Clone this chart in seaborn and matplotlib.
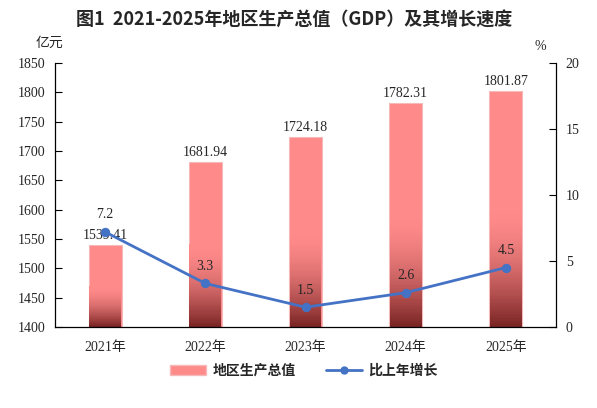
import numpy as np
import pandas as pd
import matplotlib
matplotlib.use("Agg")
import matplotlib.pyplot as plt
from matplotlib.colors import to_rgb
from matplotlib.patches import Patch
from matplotlib.lines import Line2D
import seaborn as sns

years = ["2021年", "2022年", "2023年", "2024年", "2025年"]
gdp = [1539.41, 1681.94, 1724.18, 1782.31, 1801.87]
growth = [7.2, 3.3, 1.5, 2.6, 4.5]
gdp_labels = ["1539.41", "1681.94", "1724.18", "1782.31", "1801.87"]
growth_labels = ["7.2", "3.3", "1.5", "2.6", "4.5"]
left_ticks = [1400, 1450, 1500, 1550, 1600, 1650, 1700, 1750, 1800, 1850]
right_ticks = [0, 5, 10, 15, 20]

sns.set_theme(style="white")
plt.rcParams['font.family'] = ['Liberation Serif', 'Noto Sans CJK SC', 'DejaVu Sans']
CJK = ['Noto Sans CJK SC', 'DejaVu Sans']
NUM = ['Liberation Serif', 'Noto Sans CJK SC']

pink = "#FF8A8A"
dark = "#782222"
blue = "#4472C4"

fig = plt.figure(figsize=(5.97, 4.08), dpi=100)
ax = fig.add_axes([55/597, 1 - 327/408, (556-55)/597, (327-63)/408])

df = pd.DataFrame({"year": years, "gdp": gdp, "growth": growth})
sns.barplot(data=df, x="year", y="gdp", ax=ax, color=pink, width=0.33,
            edgecolor="#F6B9B9", linewidth=0.8, saturation=1)
ax.set_ylim(1400, 1850)
ax.set_xlim(-0.5, 4.5)

# smooth gradient in lower part of each bar, drawn as thin slices
c_dark = np.array(to_rgb(dark))
c_pink = np.array(to_rgb(pink))
nslice = 80
patches = list(ax.patches)
for p in patches:
    x0 = p.get_x() + 0.006
    w = p.get_width() - 0.012
    base = 1400
    h = (p.get_y() + p.get_height() - base) * 0.5
    dh = h / nslice
    for k in range(nslice):
        tt = (k + 0.5) / nslice
        f = 1 - (1 - tt) ** 1.7
        col = c_dark + (c_pink - c_dark) * f
        ax.add_patch(plt.Rectangle((x0, base + k * dh), w, dh * 1.02,
                                   facecolor=col, edgecolor="none",
                                   linewidth=0, zorder=2.5, antialiased=False))
ax.set_xlim(-0.5, 4.5)
ax.set_ylim(1400, 1850)

for i, p in enumerate(patches):
    ax.text(p.get_x() + p.get_width()/2, p.get_y() + p.get_height() + 5, gdp_labels[i],
            ha="center", va="bottom", fontsize=10, family=NUM, zorder=6)

ax.set_yticks(left_ticks)
ax.set_yticklabels([str(v) for v in left_ticks], family=NUM, fontsize=10)
ax.set_xticks(range(len(years)))
ax.set_xticklabels(years, family=NUM + CJK, fontsize=10)
ax.set_xticks([0.5, 1.5, 2.5, 3.5], minor=True)
ax.tick_params(axis="x", which="major", length=0, pad=10)
ax.tick_params(axis="x", which="minor", length=4, direction="in", color="black", width=0.8)
ax.tick_params(axis="y", direction="in", length=5, color="black", width=0.8, left=True, pad=7)
ax.set_xlabel("")
ax.set_ylabel("")
for s in ["left", "bottom"]:
    ax.spines[s].set_color("black")
    ax.spines[s].set_linewidth(0.9)
ax.spines["top"].set_visible(False)
ax.spines["right"].set_visible(False)

ax2 = ax.twinx()
sns.lineplot(x=np.arange(len(years)), y=growth, ax=ax2, color=blue, linewidth=2,
             marker="o", markersize=6, markeredgecolor=blue, zorder=5)
ax2.set_ylim(0, 20)
ax2.set_xlim(-0.5, 4.5)
ax2.set_yticks(right_ticks)
ax2.set_yticklabels([str(v) for v in right_ticks], family=NUM, fontsize=10)
ax2.tick_params(axis="y", direction="in", length=5, color="black", width=0.8, right=True, pad=7)
ax2.spines["right"].set_color("black")
ax2.spines["right"].set_linewidth(0.9)
for s in ["top", "left", "bottom"]:
    ax2.spines[s].set_visible(False)
ax2.set_ylabel("")
for i, g in enumerate(growth):
    ax2.text(i, g + 0.8, growth_labels[i], ha="center", va="bottom",
             fontsize=10, family=NUM, zorder=7)

fig.text(294/597, 1 - 20/408, "图1  2021-2025年地区生产总值（GDP）及其增长速度",
         ha="center", va="center", fontsize=13, fontweight="bold", family=CJK)
fig.text(49/597, 1 - 43/408, "亿元", ha="center", va="center", fontsize=10, family=CJK)
fig.text(540/597, 1 - 47/408, "%", ha="center", va="center", fontsize=10, family=NUM)

handles = [Patch(facecolor=pink, edgecolor="#F6B9B9"),
           Line2D([0], [0], color=blue, lw=2, marker="o", markersize=5)]
fig.legend(handles, ["地区生产总值", "比上年增长"], loc="center",
           bbox_to_anchor=(304/597, 1 - 371/408), ncol=2, frameon=False,
           prop={"family": CJK, "size": 10, "weight": "bold"},
           handlelength=2.6, columnspacing=2.1, handletextpad=0.5)

fig.savefig("out.png", dpi=100)
